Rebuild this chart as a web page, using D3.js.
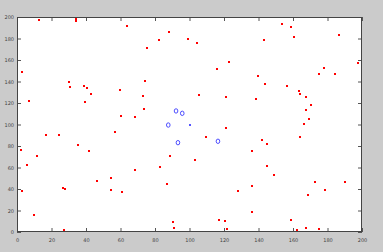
<!DOCTYPE html>
<html><head><meta charset="utf-8">
<script src="https://cdn.jsdelivr.net/npm/d3@7"></script>
<style>
html,body{margin:0;padding:0;background:#cbcbcb;}
svg{display:block;}
text{font-family:"DejaVu Sans",sans-serif;}
</style></head>
<body>
<script>
// Red points (x, y)
const redX = [12.9,34.0,34.4,63.9,3.1,30.1,30.7,38.7,40.4,42.9,59.7,7.0,39.6,60.5,88.3,82.1,99.3,104.5,75.5,122.9,115.9,74.0,73.2,105.7,121.3,73.8,68.2,121.3,109.6,88.5,103.2,83.1,68.4,87.0,127.9,117.1,120.6,90.3,91.2,121.6,153.4,158.8,160.8,186.8,143.2,197.9,178.0,175.1,184.3,139.7,143.6,156.5,163.5,164.2,167.7,138.6,170.6,167.5,169.3,166.4,164.1,141.8,145.1,136.2,145.1,148.8,136.4,172.9,190.0,168.7,178.6,136.4,158.7,167.4,162.3,174.9,16.6,24.2,56.6,35.2,2.5,41.7,11.6,5.6,46.4,54.5,26.7,27.7,54.3,60.7,3.1,9.9,27.2];
const redY = [197.5,198.4,196.0,191.9,149.1,139.3,135.2,136.1,134.2,128.4,132.4,121.9,120.6,108.2,186.3,178.6,179.5,175.8,171.4,158.1,151.9,140.5,126.5,127.4,125.9,114.4,106.7,97.0,88.7,70.7,66.7,60.7,58.0,44.9,38.1,11.2,10.0,9.0,3.7,3.1,193.8,190.7,181.4,183.3,178.6,157.5,152.3,147.0,147.3,145.1,138.0,135.8,131.4,128.6,125.6,124.0,118.4,113.5,105.1,100.5,88.7,85.6,82.1,75.3,61.7,53.3,42.5,46.2,46.2,34.7,39.3,18.3,11.4,3.7,1.9,2.8,90.5,90.2,93.3,80.9,76.6,75.6,70.4,62.3,47.7,50.5,41.2,40.3,39.3,37.5,38.1,15.8,2.1];
// Blue circles
const blueX = [92.2,95.8,87.7,93.3,116.5];
const blueY = [112.6,110.4,99.5,83.1,84.4];
// Blue dot
const blueDotX = [100.1];
const blueDotY = [99.5];
const xTicks = [0,20,40,60,80,100,120,140,160,180,200];
const yTicks = [0,20,40,60,80,100,120,140,160,180,200];

const W = 383, H = 252;
const L = 17, R = 362, T = 17, B = 232;
const svg = d3.select("body").append("svg").attr("width", W).attr("height", H);
svg.append("rect").attr("width", W).attr("height", H).attr("fill", "#cbcbcb");

const x = d3.scaleLinear().domain([0,200]).range([L,R]);
const y = d3.scaleLinear().domain([0,200]).range([B,T]);

svg.append("rect").attr("x", L).attr("y", T).attr("width", R-L).attr("height", B-T)
  .attr("fill", "#ffffff");

const tickCol = "#555";
function styleAxis(g, showLabels){
  g.select(".domain").remove();
  g.selectAll(".tick line").attr("stroke", tickCol).attr("stroke-width", 1);
  g.selectAll(".tick text").attr("fill", "#444").style("font-size", "5px");
  if(!showLabels) g.selectAll(".tick text").remove();
}
svg.append("g").attr("transform", `translate(0,${B})`)
  .call(d3.axisBottom(x).tickValues(xTicks).tickSize(-4).tickPadding(6).tickFormat(d3.format("d")))
  .call(g=>styleAxis(g,true));
svg.append("g").attr("transform", `translate(0,${T})`)
  .call(d3.axisTop(x).tickValues(xTicks).tickSize(-4).tickFormat(""))
  .call(g=>styleAxis(g,false));
svg.append("g").attr("transform", `translate(${L},0)`)
  .call(d3.axisLeft(y).tickValues(yTicks).tickSize(-4).tickPadding(3).tickFormat(d3.format("d")))
  .call(g=>styleAxis(g,true));
svg.append("g").attr("transform", `translate(${R},0)`)
  .call(d3.axisRight(y).tickValues(yTicks).tickSize(-4).tickFormat(""))
  .call(g=>styleAxis(g,false));

svg.append("rect").attr("x", L+0.5).attr("y", T+0.5).attr("width", R-L-1).attr("height", B-T-1)
  .attr("fill", "none").attr("stroke", "#444").attr("stroke-width", 1);

const red = redX.map((v,i)=>({x:v, y:redY[i]}));
svg.append("g").selectAll("rect").data(red).join("rect")
  .attr("x", d=>Math.round(x(d.x))-1).attr("y", d=>Math.round(y(d.y))-1)
  .attr("width", 2).attr("height", 2).attr("fill", "#ff0000");

const blue = blueX.map((v,i)=>({x:v, y:blueY[i]}));
svg.append("g").selectAll("ellipse").data(blue).join("ellipse")
  .attr("cx", d=>x(d.x)).attr("cy", d=>y(d.y)).attr("rx", 1.8).attr("ry", 2.2)
  .attr("fill", "none").attr("stroke", "#3a3aff").attr("stroke-width", 0.9);

const bdot = blueDotX.map((v,i)=>({x:v, y:blueDotY[i]}));
svg.append("g").selectAll("rect").data(bdot).join("rect")
  .attr("x", d=>Math.round(x(d.x))-1).attr("y", d=>Math.round(y(d.y))-1)
  .attr("width", 2).attr("height", 2).attr("fill", "#5555ff");
</script>
</body></html>
